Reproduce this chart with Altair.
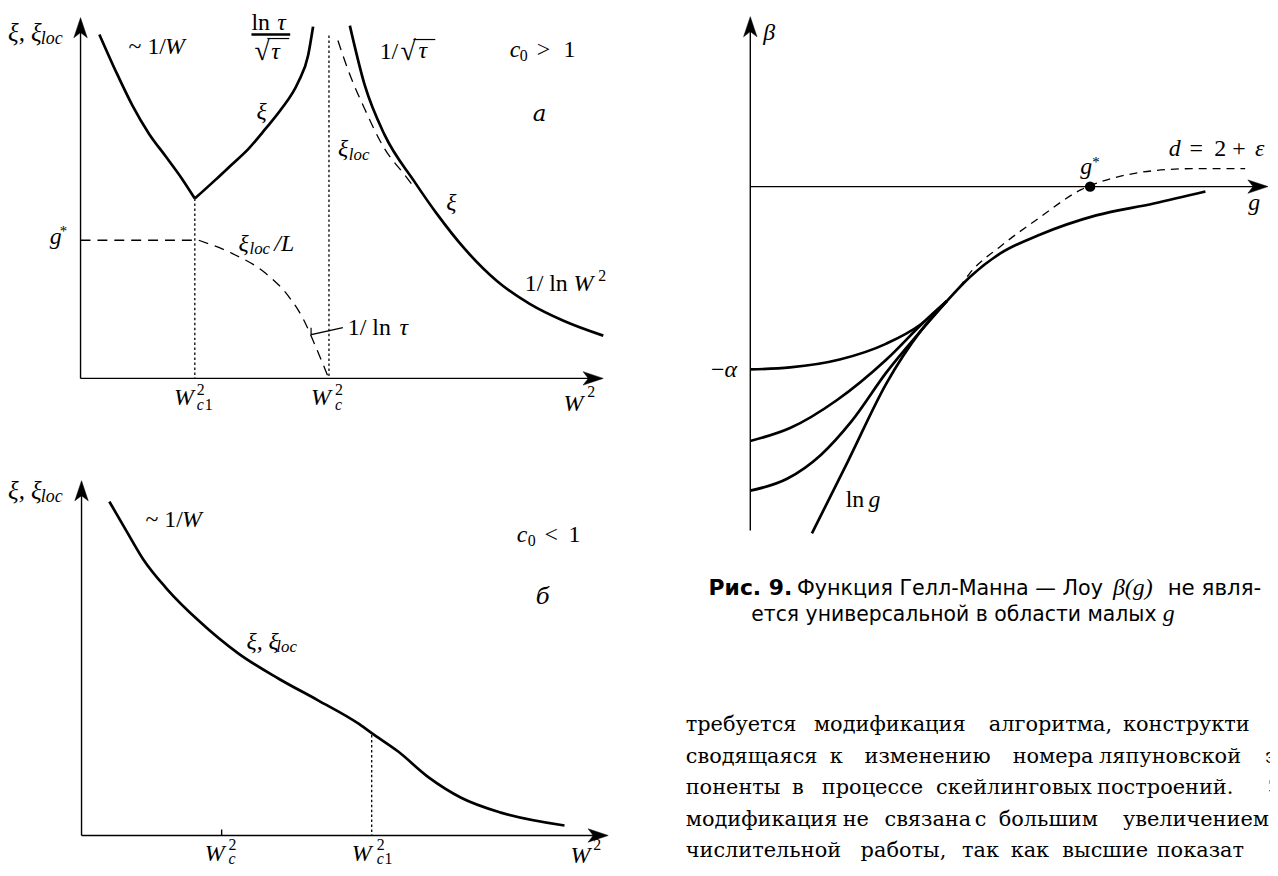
import altair as alt
import pandas as pd

# ---------------- curve values (page-pixel frame) ----------------
# Panel "a" (c0 > 1)
A_XI_LEFT_X = [100, 117, 133, 150, 167, 183, 196]
A_XI_LEFT_Y = [32, 70, 103, 132, 155, 177, 197]
A_XI_MID_X = [196, 217, 233, 250, 267, 283, 300, 310, 315]
A_XI_MID_Y = [197, 178, 163, 147, 127, 107, 80, 53, 24]
A_XI_RIGHT_X = [352, 367, 387, 417, 440, 467, 500, 533, 567, 607]
A_XI_RIGHT_Y = [23, 83, 133, 180, 213, 247, 280, 303, 320, 335]
A_LOC_RIGHT_X = [340, 350, 367, 387, 407, 417]
A_LOC_RIGHT_Y = [38, 67, 107, 147, 173, 186]
A_LOC_L_X = [200, 233, 267, 290, 305, 318, 330]
A_LOC_L_Y = [239, 252, 272, 295, 318, 347, 376]
A_GSTAR_X = [81, 196]
A_GSTAR_Y = [239, 239]
A_WC1_X = [196, 196]
A_WC1_Y = [197, 378]
A_WC_X = [331, 331]
A_WC_Y = [33, 377]
A_LEADER_X = [313, 313, 345]
A_LEADER_Y = [327, 334, 327]
A_FRAC_X = [253, 292]
A_FRAC_Y = [32, 32]
A_VINC1_X = [269, 291]
A_VINC1_Y = [36, 36]
A_VINC2_X = [416, 438]
A_VINC2_Y = [37, 37]
A_AXIS_Y_X = [81, 81]
A_AXIS_Y_Y = [378, 24]
A_AXIS_X_X = [81, 598]
A_AXIS_X_Y = [378, 378]

# Panel "б" (c0 < 1)
B_XI_X = [110, 128, 144, 168, 200, 240, 280, 320, 360, 374, 400, 432, 464, 504, 568]
B_XI_Y = [502, 533, 560, 590, 622, 655, 680, 702, 725, 735, 753, 780, 800, 815, 828]
B_WC1_X = [374, 374]
B_WC1_Y = [737, 838]
B_TICK_X = [223, 223]
B_TICK_Y = [832, 838]
B_AXIS_Y_X = [82, 82]
B_AXIS_Y_Y = [838, 490]
B_AXIS_X_X = [82, 603]
B_AXIS_X_Y = [838, 838]

# Right panel: beta(g)
R_MAIN_X = [953, 976, 1007, 1045, 1103, 1161, 1213]
R_MAIN_Y = [300, 276, 252, 234, 214, 202, 190]
R_DASH_X = [965, 976, 1007, 1045, 1088, 1122, 1161, 1199, 1253]
R_DASH_Y = [287, 272, 245, 217, 188, 176, 169, 167, 167]
R_C1_X = [755, 795, 845, 892, 926, 953]
R_C1_Y = [369, 367, 359, 343, 324, 300]
R_C2_X = [755, 795, 842, 892, 930, 953]
R_C2_Y = [441, 428, 400, 359, 321, 300]
R_C3_X = [755, 792, 826, 857, 892, 926, 953]
R_C3_Y = [491, 479, 455, 421, 372, 331, 300]
R_LN_X = [817, 853, 892, 926, 953]
R_LN_Y = [534, 462, 383, 331, 300]
R_AXIS_Y_X = [755, 755]
R_AXIS_Y_Y = [531, 23]
R_AXIS_X_X = [755, 1267]
R_AXIS_X_Y = [185, 185]
R_GSTAR_X = [1097]
R_GSTAR_Y = [185]

# arrow tips: up-pointing (vertical axes) and right-pointing (horizontal axes)
ARROW_UP_X = [81, 82, 755]
ARROW_UP_Y = [15, 481, 14]
ARROW_RIGHT_X = [607, 612, 1276]
ARROW_RIGHT_Y = [378, 838, 185]

CURVES = [
    ("a_xi_left", "solid", A_XI_LEFT_X, A_XI_LEFT_Y),
    ("a_xi_mid", "solid", A_XI_MID_X, A_XI_MID_Y),
    ("a_xi_right", "solid", A_XI_RIGHT_X, A_XI_RIGHT_Y),
    ("a_loc_right", "dash_a", A_LOC_RIGHT_X, A_LOC_RIGHT_Y),
    ("a_loc_l", "dash_a", A_LOC_L_X, A_LOC_L_Y),
    ("a_gstar", "dash_a", A_GSTAR_X, A_GSTAR_Y),
    ("a_wc1", "dot", A_WC1_X, A_WC1_Y),
    ("a_wc", "dot", A_WC_X, A_WC_Y),
    ("a_leader", "thin", A_LEADER_X, A_LEADER_Y),
    ("a_frac", "bar", A_FRAC_X, A_FRAC_Y),
    ("a_vinc1", "thin", A_VINC1_X, A_VINC1_Y),
    ("a_vinc2", "thin", A_VINC2_X, A_VINC2_Y),
    ("a_ax_y", "axis", A_AXIS_Y_X, A_AXIS_Y_Y),
    ("a_ax_x", "axis", A_AXIS_X_X, A_AXIS_X_Y),
    ("b_xi", "solid", B_XI_X, B_XI_Y),
    ("b_wc1", "dot", B_WC1_X, B_WC1_Y),
    ("b_tick", "axis", B_TICK_X, B_TICK_Y),
    ("b_ax_y", "axis", B_AXIS_Y_X, B_AXIS_Y_Y),
    ("b_ax_x", "axis", B_AXIS_X_X, B_AXIS_X_Y),
    ("r_main", "solid", R_MAIN_X, R_MAIN_Y),
    ("r_dash", "dash_r", R_DASH_X, R_DASH_Y),
    ("r_c1", "solid", R_C1_X, R_C1_Y),
    ("r_c2", "solid", R_C2_X, R_C2_Y),
    ("r_c3", "solid", R_C3_X, R_C3_Y),
    ("r_ln", "solid", R_LN_X, R_LN_Y),
    ("r_ax_y", "axis", R_AXIS_Y_X, R_AXIS_Y_Y),
    ("r_ax_x", "axis", R_AXIS_X_X, R_AXIS_X_Y),
]

# ---------------- text (label, x, baseline y, font size, kind) ----------------
LABELS = [
    # panel a
    ("ξ, ξ", 8, 38, 25, "mi"), ("loc", 41, 41, 18, "mi"),
    ("~ 1/", 167, 52, 24, "mr_right"), ("W", 166, 52, 24, "mi"),
    ("ln", 253, 27, 24, "mr"), ("τ", 279, 27, 24, "mi"),
    ("√", 256, 58, 28, "mr"), ("τ", 273, 57, 24, "mi"),
    ("ξ", 258, 117, 24, "mi"),
    ("g", 50, 243, 24, "mi"), ("*", 60, 235, 15, "mr"),
    ("ξ", 240, 250, 24, "mi"), ("loc", 251, 253, 17, "mi"), ("/L", 276, 250, 24, "mi"),
    ("W", 175, 405, 24, "mi"), ("2", 198, 395, 16, "mr"), ("c", 198, 410, 16, "mi"), ("1", 206, 410, 16, "mr"),
    ("W", 313, 405, 24, "mi"), ("2", 337, 395, 16, "mr"), ("c", 337, 410, 16, "mi"),
    ("W", 567, 411, 24, "mi"), ("2", 591, 397, 16, "mr"),
    ("1/", 382, 57, 24, "mr"), ("√", 403, 58, 28, "mr"), ("τ", 421, 56, 24, "mi"),
    ("c", 513, 55, 24, "mi"), ("0", 523, 59, 16, "mr"), (">", 540, 55, 24, "mr"), ("1", 567, 55, 24, "mr"),
    ("а", 536, 119, 23, "cyr_i"),
    ("ξ", 340, 154, 24, "mi"), ("loc", 351, 158, 17, "mi"),
    ("ξ", 449, 209, 24, "mi"),
    ("1/ ln", 528, 290, 24, "mr"), ("W", 577, 290, 24, "mi"), ("2", 602, 280, 16, "mr"),
    ("1/ ln", 350, 334, 24, "mr"), ("τ", 402, 334, 24, "mi"),
    # panel б
    ("ξ, ξ", 8, 499, 25, "mi"), ("loc", 41, 502, 18, "mi"),
    ("~ 1/", 184, 528, 24, "mr_right"), ("W", 183, 528, 24, "mi"),
    ("c", 520, 543, 24, "mi"), ("0", 531, 547, 16, "mr"), ("<", 548, 543, 24, "mr"), ("1", 572, 543, 24, "mr"),
    ("б", 539, 605, 23, "cyr_i"),
    ("ξ, ξ", 248, 650, 24, "mi"), ("loc", 278, 653, 17, "mi"),
    ("W", 206, 864, 24, "mi"), ("2", 230, 853, 16, "mr"), ("c", 230, 867, 16, "mi"),
    ("W", 354, 864, 24, "mi"), ("2", 379, 853, 16, "mr"), ("c", 379, 867, 16, "mi"), ("1", 387, 867, 16, "mr"),
    ("W", 574, 866, 24, "mi"), ("2", 597, 853, 16, "mr"),
    # right panel
    ("β", 768, 37, 24, "mi"),
    ("g", 1256, 209, 24, "mi"),
    ("−", 729, 377, 24, "mr_right"), ("α", 729, 377, 24, "mi"),
    ("d", 1176, 154, 24, "mi"), ("=", 1197, 154, 24, "mr"), ("2", 1222, 154, 24, "mr"),
    ("+", 1240, 154, 24, "mr"), ("ε", 1263, 154, 24, "mi"),
    ("g", 1087, 172, 24, "mi"), ("*", 1099, 165, 15, "mr"),
    ("ln", 851, 507, 24, "mr"), ("g", 874, 507, 24, "mi"),
    # caption
    ("Рис. 9.", 713, 596, 22, "sansb"), ("Функция Гелл-Манна — Лоу", 802, 596, 20.8, "sans"),
    ("β(g)", 1120, 596, 24, "mi"), ("не явля-", 1175, 596, 21.5, "sans"),
    ("ется универсальной в области малых", 756, 622, 20.5, "sans"), ("g", 1170, 622, 24, "mi"),
]

# body text, word by word (justified in the reference)
PARA_WORDS = [
    ["требуется", "модификация", "алгоритма,", "конструкти"],
    ["сводящаяся", "к", "изменению", "номера", "ляпуновской", "э"],
    ["поненты", "в", "процессе", "скейлинговых", "построений.", "Э"],
    ["модификация", "не", "связана", "с", "большим", "увеличением"],
    ["числительной", "работы,", "так", "как", "высшие", "показат"],
]
PARA_WORD_X = [
    [690, 819, 995, 1130],
    [690, 835, 870, 1019, 1106, 1273],
    [690, 797, 827, 942, 1104, 1276],
    [690, 848, 890, 981, 1005, 1130],
    [690, 866, 968, 1017, 1069, 1164],
]
PARA_BASELINE = [733, 765, 796, 828, 860]

# ---------------- build tables ----------------
rows = []
for name, style, xs, ys in CURVES:
    for i, (x, y) in enumerate(zip(xs, ys)):
        rows.append(dict(curve=name, style=style, order=i, x=x, y=y))
lines = pd.DataFrame(rows)

trows = [dict(text=t, x=x, y=y, size=s, kind=k) for t, x, y, s, k in LABELS]
for words, xs, yb in zip(PARA_WORDS, PARA_WORD_X, PARA_BASELINE):
    for w, x in zip(words, xs):
        trows.append(dict(text=w, x=x, y=yb, size=21, kind="para"))
texts = pd.DataFrame(trows)

arrows_up = pd.DataFrame(dict(x=ARROW_UP_X, y=ARROW_UP_Y))
arrows_right = pd.DataFrame(dict(x=ARROW_RIGHT_X, y=ARROW_RIGHT_Y))
dots = pd.DataFrame(dict(x=R_GSTAR_X, y=R_GSTAR_Y))

X = alt.X("x:Q", scale=alt.Scale(domain=[8, 1278], nice=False, zero=False), axis=None)
Y = alt.Y("y:Q", scale=alt.Scale(domain=[8, 868], nice=False, zero=False, reverse=True), axis=None)

LINE_STYLES = {
    "solid": dict(strokeWidth=2.7, interpolate="monotone"),
    "axis": dict(strokeWidth=1.4, interpolate="linear"),
    "thin": dict(strokeWidth=1.2, interpolate="linear"),
    "bar": dict(strokeWidth=2.6, interpolate="linear"),
    "dash_a": dict(strokeWidth=1.3, interpolate="monotone", strokeDash=[10, 7]),
    "dash_r": dict(strokeWidth=1.3, interpolate="monotone", strokeDash=[8, 6]),
    "dot": dict(strokeWidth=1.3, interpolate="linear", strokeDash=[2.5, 2.5]),
}

layers = []
for s, kw in LINE_STYLES.items():
    layers.append(
        alt.Chart(lines)
        .transform_filter(alt.datum.style == s)
        .mark_line(color="black", **kw)
        .encode(x=X, y=Y, detail="curve:N", order="order:Q")
    )

ARROW_UP_PATH = "M0,0L0.45,1.35L0,1.0L-0.45,1.35Z"
ARROW_RIGHT_PATH = "M0,0L-1.35,0.45L-1.0,0L-1.35,-0.45Z"
for df, path in ((arrows_up, ARROW_UP_PATH), (arrows_right, ARROW_RIGHT_PATH)):
    layers.append(
        alt.Chart(df)
        .mark_point(shape=path, filled=True, size=900, color="black", fill="black",
                    opacity=1, fillOpacity=1, stroke="black", strokeWidth=0.5)
        .encode(x=X, y=Y)
    )
layers.append(
    alt.Chart(dots)
    .mark_point(shape="circle", filled=True, size=110, color="black", opacity=1)
    .encode(x=X, y=Y)
)

KIND_STYLE = {
    "mi": dict(font="Liberation Serif", fontStyle="italic", align="left"),
    "mr": dict(font="Liberation Serif", align="left"),
    "mr_right": dict(font="Liberation Serif", align="right"),
    "cyr_i": dict(font="DejaVu Serif", fontStyle="italic", align="left"),
    "sans": dict(font="DejaVu Sans", align="left"),
    "sansb": dict(font="DejaVu Sans", fontWeight="bold", align="left"),
    "para": dict(font="DejaVu Serif", align="left"),
}
for k, kw in KIND_STYLE.items():
    layers.append(
        alt.Chart(texts)
        .transform_filter(alt.datum.kind == k)
        .mark_text(color="black", baseline="alphabetic", **kw)
        .encode(x=X, y=Y, text="text:N", size=alt.Size("size:Q", scale=None, legend=None))
    )

chart = (
    alt.layer(*layers)
    .properties(width=1270, height=860, padding=0, autosize=alt.AutoSizeParams(type="none"))
    .configure_view(strokeWidth=0)
)

chart.save("out.html", embed_options={"renderer": "svg", "actions": False})
